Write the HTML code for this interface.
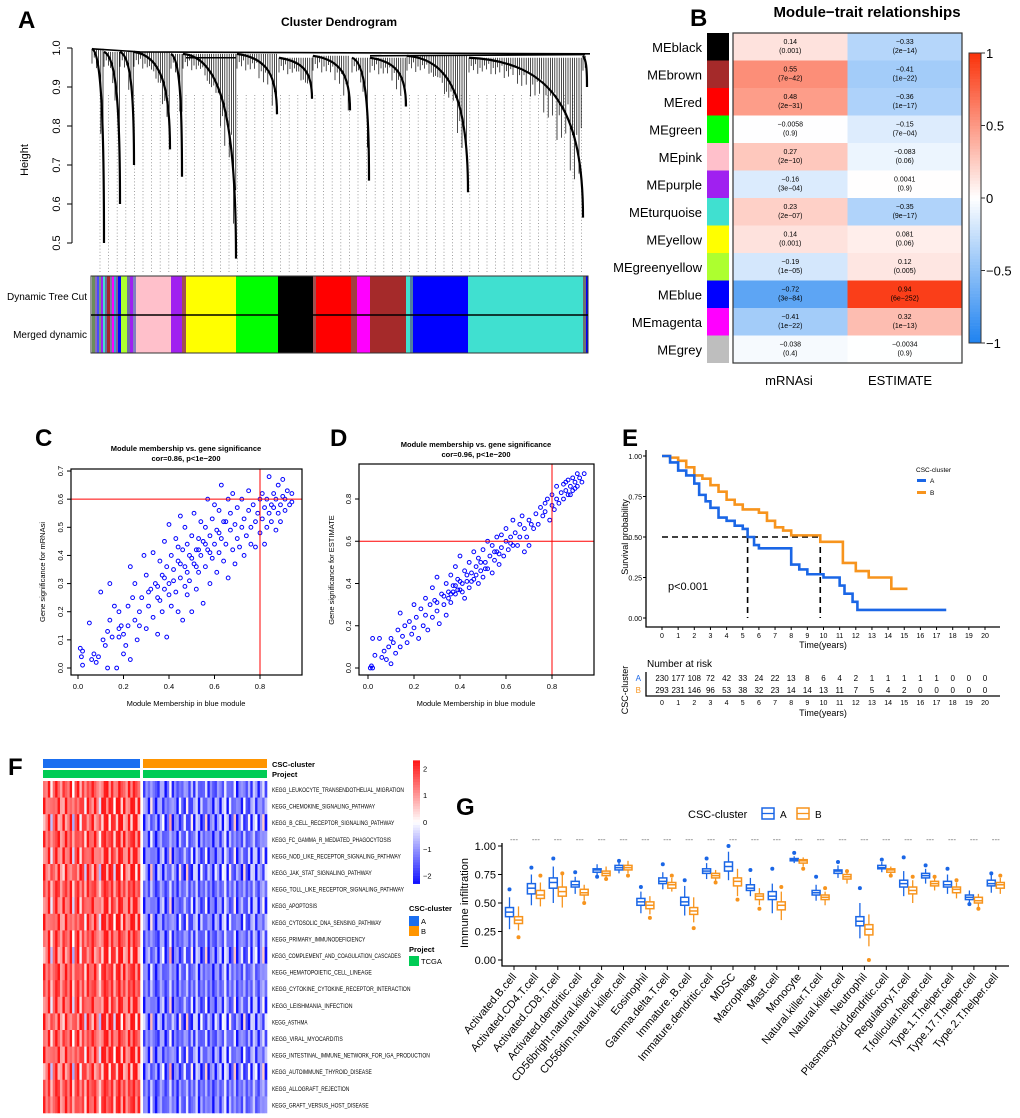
<!DOCTYPE html>
<html><head><meta charset="utf-8">
<style>
html,body{margin:0;padding:0;background:#fff;}
svg{display:block;font-family:"Liberation Sans",Arial,sans-serif;}
</style></head>
<body>
<svg id="fig" width="1020" height="1118" viewBox="0 0 1020 1118" xmlns="http://www.w3.org/2000/svg">
<rect width="1020" height="1118" fill="#fff"/>
<g id="pA">
  <text x="18" y="28" font-size="24" font-weight="bold">A</text>
  <text x="339" y="26" font-size="12" font-weight="bold" text-anchor="middle">Cluster Dendrogram</text>
  <text transform="translate(28,160) rotate(-90)" font-size="11" text-anchor="middle">Height</text>
  <text x="87" y="300" font-size="10" text-anchor="end">Dynamic Tree Cut</text>
  <text x="87" y="338" font-size="10" text-anchor="end">Merged dynamic</text>
</g>
<g id="pB">
  <text x="690" y="26" font-size="24" font-weight="bold">B</text>
  <text x="867" y="17" font-size="15" font-weight="bold" text-anchor="middle">Module−trait relationships</text>
  <text x="789" y="385" font-size="13" text-anchor="middle">mRNAsi</text>
  <text x="900" y="385" font-size="13" text-anchor="middle">ESTIMATE</text>
</g>
<g id="pC">
  <text x="35" y="446" font-size="24" font-weight="bold">C</text>
  <text x="186" y="451" font-size="7.5" font-weight="bold" text-anchor="middle">Module membership vs. gene significance</text>
  <text x="186" y="461" font-size="7.5" font-weight="bold" text-anchor="middle">cor=0.86, p&lt;1e−200</text>
  <text transform="translate(45,572) rotate(-90)" font-size="7.5" text-anchor="middle">Gene significance for  mRNAsi</text>
  <text x="186" y="706" font-size="7.5" text-anchor="middle">Module Membership in blue module</text>
</g>
<g id="pD">
  <text x="330" y="446" font-size="24" font-weight="bold">D</text>
  <text x="476" y="447" font-size="7.5" font-weight="bold" text-anchor="middle">Module membership vs. gene significance</text>
  <text x="476" y="457" font-size="7.5" font-weight="bold" text-anchor="middle">cor=0.96, p&lt;1e−200</text>
  <text transform="translate(334,570) rotate(-90)" font-size="7.5" text-anchor="middle">Gene significance for  ESTIMATE</text>
  <text x="476" y="706" font-size="7.5" text-anchor="middle">Module Membership in blue module</text>
</g>
<g id="pE">
  <text x="622" y="446" font-size="24" font-weight="bold">E</text>
  <text transform="translate(628,537) rotate(-90)" font-size="9" text-anchor="middle">Survival probability</text>
  <text x="823" y="648" font-size="9" text-anchor="middle">Time(years)</text>
  <text x="668" y="590" font-size="11">p&lt;0.001</text>
  <text x="916" y="472" font-size="6.5">CSC-cluster</text>
  <text x="647" y="667" font-size="10">Number at risk</text>
  <text transform="translate(628,690) rotate(-90)" font-size="9" text-anchor="middle">CSC-cluster</text>
  <text x="823" y="716" font-size="9" text-anchor="middle">Time(years)</text>
</g>
<g id="pF">
  <text x="8" y="775" font-size="24" font-weight="bold">F</text>
  <text x="272" y="767" font-size="7.5" font-weight="bold">CSC-cluster</text>
  <text x="272" y="777" font-size="7.5" font-weight="bold">Project</text>
  <text x="409" y="911" font-size="7.5" font-weight="bold">CSC-cluster</text>
  <text x="409" y="952" font-size="7.5" font-weight="bold">Project</text>
</g>
<g id="pG">
  <text x="456" y="815" font-size="24" font-weight="bold">G</text>
  <text x="688" y="818" font-size="11">CSC-cluster</text>
  <text transform="translate(468,903) rotate(-90)" font-size="11" text-anchor="middle">Immune infiltration</text>
</g>
</svg>
<script>
// ---------- DATA ----------
const bModules = ["MEblack","MEbrown","MEred","MEgreen","MEpink","MEpurple","MEturquoise","MEyellow","MEgreenyellow","MEblue","MEmagenta","MEgrey"];
const bModuleColors = ["#000000","#a52a2a","#ff0000","#00ff00","#ffc0cb","#a020f0","#40e0d0","#ffff00","#adff2f","#0000ff","#ff00ff","#bebebe"];
const bMrnasi = [0.14,0.55,0.48,-0.0058,0.27,-0.16,0.23,0.14,-0.19,-0.72,-0.41,-0.038];
const bMrnasiP = ["(0.001)","(7e−42)","(2e−31)","(0.9)","(2e−10)","(3e−04)","(2e−07)","(0.001)","(1e−05)","(3e−84)","(1e−22)","(0.4)"];
const bEstimate = [-0.33,-0.41,-0.36,-0.15,-0.083,0.0041,-0.35,0.081,0.12,0.94,0.32,-0.0034];
const bEstimateP = ["(2e−14)","(1e−22)","(1e−17)","(7e−04)","(0.06)","(0.9)","(9e−17)","(0.06)","(0.005)","(6e−252)","(1e−13)","(0.9)"];
const bColorTicks = [1,0.5,0,-0.5,-1];

const cPoints = [[0.01,0.07],[0.02,0.06],[0.015,0.04],[0.02,0.01],[0.05,0.16],[0.06,0.03],[0.07,0.05],[0.08,0.02],[0.09,0.04],[0.1,0.27],[0.11,0.1],[0.12,0.08],[0.13,0.0],[0.13,0.13],[0.14,0.3],[0.14,0.17],[0.15,0.11],[0.16,0.22],[0.17,0.0],[0.18,0.14],[0.18,0.2],[0.19,0.15],[0.2,0.05],[0.2,0.12],[0.21,0.08],[0.22,0.22],[0.23,0.03],[0.23,0.36],[0.24,0.25],[0.25,0.17],[0.25,0.3],[0.26,0.1],[0.27,0.2],[0.28,0.25],[0.29,0.4],[0.3,0.14],[0.3,0.33],[0.31,0.22],[0.32,0.28],[0.33,0.18],[0.33,0.41],[0.34,0.3],[0.35,0.25],[0.35,0.12],[0.36,0.38],[0.37,0.2],[0.37,0.33],[0.38,0.28],[0.38,0.45],[0.39,0.11],[0.39,0.36],[0.4,0.3],[0.4,0.51],[0.41,0.22],[0.41,0.4],[0.42,0.35],[0.43,0.27],[0.43,0.46],[0.44,0.2],[0.44,0.38],[0.45,0.54],[0.45,0.32],[0.46,0.42],[0.46,0.17],[0.47,0.36],[0.47,0.5],[0.48,0.26],[0.48,0.44],[0.49,0.31],[0.49,0.4],[0.5,0.2],[0.5,0.47],[0.51,0.37],[0.51,0.55],[0.52,0.42],[0.52,0.28],[0.53,0.46],[0.53,0.34],[0.54,0.52],[0.54,0.4],[0.55,0.23],[0.55,0.45],[0.56,0.36],[0.56,0.5],[0.57,0.42],[0.57,0.6],[0.58,0.3],[0.58,0.47],[0.59,0.53],[0.59,0.39],[0.6,0.44],[0.6,0.58],[0.61,0.34],[0.61,0.49],[0.62,0.41],[0.62,0.56],[0.63,0.65],[0.63,0.46],[0.64,0.38],[0.64,0.52],[0.65,0.44],[0.66,0.6],[0.66,0.32],[0.67,0.49],[0.67,0.55],[0.68,0.42],[0.68,0.62],[0.69,0.37],[0.69,0.51],[0.7,0.46],[0.7,0.57],[0.71,0.43],[0.72,0.6],[0.72,0.5],[0.73,0.53],[0.73,0.4],[0.74,0.47],[0.75,0.56],[0.75,0.63],[0.76,0.5],[0.76,0.44],[0.77,0.58],[0.78,0.52],[0.78,0.43],[0.79,0.55],[0.8,0.6],[0.8,0.48],[0.81,0.53],[0.81,0.62],[0.82,0.57],[0.82,0.44],[0.83,0.5],[0.83,0.6],[0.84,0.68],[0.84,0.55],[0.85,0.58],[0.85,0.52],[0.86,0.62],[0.86,0.57],[0.87,0.49],[0.87,0.6],[0.88,0.55],[0.88,0.65],[0.89,0.58],[0.89,0.52],[0.9,0.61],[0.9,0.67],[0.91,0.56],[0.91,0.6],[0.92,0.63],[0.93,0.58],[0.94,0.62],[0.94,0.59],[0.35,0.29],[0.42,0.31],[0.45,0.37],[0.48,0.34],[0.5,0.39],[0.53,0.42],[0.56,0.44],[0.4,0.26],[0.44,0.43],[0.47,0.29],[0.38,0.32],[0.52,0.36],[0.58,0.41],[0.62,0.48],[0.65,0.52],[0.36,0.24],[0.31,0.27],[0.27,0.15],[0.22,0.15],[0.18,0.11]];
const cXTicks = [0,0.2,0.4,0.6,0.8];
const cYTicks = [0,0.1,0.2,0.3,0.4,0.5,0.6,0.7];

const dPoints = [[0.01,0.0],[0.015,0.01],[0.02,0.0],[0.02,0.14],[0.03,0.06],[0.05,0.14],[0.06,0.05],[0.07,0.08],[0.08,0.04],[0.09,0.1],[0.1,0.02],[0.1,0.14],[0.11,0.12],[0.12,0.07],[0.13,0.18],[0.14,0.1],[0.14,0.26],[0.15,0.15],[0.16,0.2],[0.17,0.12],[0.18,0.22],[0.19,0.16],[0.2,0.3],[0.2,0.19],[0.21,0.24],[0.22,0.14],[0.23,0.28],[0.24,0.2],[0.25,0.33],[0.25,0.25],[0.26,0.18],[0.27,0.3],[0.28,0.38],[0.28,0.24],[0.29,0.32],[0.3,0.27],[0.3,0.43],[0.31,0.21],[0.32,0.35],[0.33,0.3],[0.34,0.4],[0.34,0.25],[0.35,0.36],[0.36,0.44],[0.36,0.31],[0.37,0.39],[0.38,0.35],[0.38,0.48],[0.39,0.42],[0.4,0.37],[0.4,0.53],[0.41,0.4],[0.42,0.46],[0.42,0.33],[0.43,0.41],[0.44,0.5],[0.44,0.38],[0.45,0.45],[0.46,0.55],[0.46,0.42],[0.47,0.48],[0.48,0.4],[0.48,0.52],[0.49,0.46],[0.5,0.56],[0.5,0.43],[0.51,0.5],[0.52,0.6],[0.52,0.47],[0.53,0.53],[0.54,0.45],[0.54,0.58],[0.55,0.51],[0.56,0.62],[0.56,0.55],[0.57,0.49],[0.58,0.57],[0.58,0.63],[0.59,0.53],[0.6,0.6],[0.6,0.66],[0.61,0.56],[0.62,0.62],[0.63,0.58],[0.63,0.7],[0.64,0.64],[0.65,0.58],[0.66,0.68],[0.66,0.62],[0.67,0.72],[0.68,0.55],[0.68,0.66],[0.69,0.62],[0.7,0.7],[0.7,0.58],[0.71,0.68],[0.72,0.66],[0.73,0.73],[0.74,0.68],[0.75,0.76],[0.76,0.72],[0.77,0.78],[0.77,0.74],[0.78,0.8],[0.79,0.7],[0.8,0.77],[0.8,0.82],[0.81,0.75],[0.82,0.8],[0.82,0.86],[0.83,0.78],[0.84,0.83],[0.85,0.87],[0.85,0.8],[0.86,0.84],[0.87,0.89],[0.87,0.82],[0.88,0.86],[0.89,0.9],[0.89,0.84],[0.9,0.88],[0.91,0.92],[0.91,0.86],[0.92,0.9],[0.93,0.88],[0.94,0.92],[0.35,0.33],[0.37,0.36],[0.39,0.37],[0.41,0.36],[0.43,0.44],[0.45,0.41],[0.47,0.44],[0.49,0.5],[0.51,0.47],[0.4,0.41],[0.38,0.39],[0.36,0.35],[0.33,0.34],[0.3,0.31],[0.55,0.55],[0.57,0.54],[0.62,0.59],[0.88,0.82],[0.9,0.85],[0.86,0.88]];
const dXTicks = [0,0.2,0.4,0.6,0.8];
const dYTicks = [0,0.2,0.4,0.6,0.8];

const eTimesA = [0,0.5,1,1.5,2,2.3,2.7,3,3.5,4,4.5,5,5.3,5.7,6,7.9,8,8.5,9,10,11,11.3,11.8,12.1,17.6];
const eSurvA  = [1,0.96,0.91,0.88,0.83,0.76,0.72,0.68,0.62,0.6,0.57,0.55,0.5,0.45,0.43,0.43,0.33,0.3,0.27,0.25,0.2,0.15,0.1,0.05,0.05];
const eTimesB = [0,0.5,1,1.5,2,2.5,3,3.5,4,4.5,5,6,6.5,7,7.5,8,9.8,11,11.2,12,12.8,14.2,15.2];
const eSurvB  = [1,0.99,0.97,0.93,0.88,0.86,0.82,0.78,0.73,0.7,0.67,0.65,0.6,0.56,0.54,0.51,0.47,0.47,0.34,0.29,0.25,0.18,0.18];
const eMedianA = 5.3, eMedianB = 9.8;
const eXTicks = [0,1,2,3,4,5,6,7,8,9,10,11,12,13,14,15,16,17,18,19,20];
const eYTicks = [1,0.75,0.5,0.25,0];
const eYTickLabels = ["1.00","0.75","0.50","0.25","0.00"];
const eRiskA = [230,177,108,72,42,33,24,22,13,8,6,4,2,1,1,1,1,1,0,0,0];
const eRiskB = [293,231,146,96,53,38,32,23,14,14,13,11,7,5,4,2,0,0,0,0,0];

const fPathways = ["KEGG_LEUKOCYTE_TRANSENDOTHELIAL_MIGRATION","KEGG_CHEMOKINE_SIGNALING_PATHWAY","KEGG_B_CELL_RECEPTOR_SIGNALING_PATHWAY","KEGG_FC_GAMMA_R_MEDIATED_PHAGOCYTOSIS","KEGG_NOD_LIKE_RECEPTOR_SIGNALING_PATHWAY","KEGG_JAK_STAT_SIGNALING_PATHWAY","KEGG_TOLL_LIKE_RECEPTOR_SIGNALING_PATHWAY","KEGG_APOPTOSIS","KEGG_CYTOSOLIC_DNA_SENSING_PATHWAY","KEGG_PRIMARY_IMMUNODEFICIENCY","KEGG_COMPLEMENT_AND_COAGULATION_CASCADES","KEGG_HEMATOPOIETIC_CELL_LINEAGE","KEGG_CYTOKINE_CYTOKINE_RECEPTOR_INTERACTION","KEGG_LEISHMANIA_INFECTION","KEGG_ASTHMA","KEGG_VIRAL_MYOCARDITIS","KEGG_INTESTINAL_IMMUNE_NETWORK_FOR_IGA_PRODUCTION","KEGG_AUTOIMMUNE_THYROID_DISEASE","KEGG_ALLOGRAFT_REJECTION","KEGG_GRAFT_VERSUS_HOST_DISEASE"];
const fColsA = [1.8,1.2,2.1,0.6,1.5,2.2,1.9,0.9,1.6,2.0,1.3,2.3,0.4,1.7,2.1,1.1,1.9,0.7,2.2,1.5,1.8,2.0,1.2,0.5,1.6,2.2,1.9,1.4,2.1,0.8,1.7,2.3,1.3,1.9,1.0,2.0,1.6,2.2,1.4,1.8];
const fColsB = [-1.5,-1.0,-1.8,-0.5,-1.3,-2.0,-1.6,-0.8,-1.2,-1.9,-1.4,-0.3,-1.7,-1.1,-2.1,-0.9,-1.5,-1.3,-0.6,-1.8,-1.0,-1.6,-0.4,-1.9,-1.2,-1.5,-0.7,-1.7,-1.1,-2.0,-1.4,-0.9,-1.6,-1.3,-0.2,-1.8,-1.0,-1.5,-0.6,-1.9,-1.2,-1.4,-0.8,-1.7,-1.1,-1.6,-0.5,-1.3,-1.8,-1.0,-0.7,-1.4];
const fRowShift = [0.1,-0.2,0.3,-0.1,0.2,-0.3,0.0,0.2,-0.2,0.1,0.3,-0.1,0.0,0.2,-0.3,0.1,-0.2,0.3,0.0,-0.1];
const fScaleTicks = [2,1,0,-1,-2];

const gCells = ["Activated.B.cell","Activated.CD4.T.cell","Activated.CD8.T.cell","Activated.dendritic.cell","CD56bright.natural.killer.cell","CD56dim.natural.killer.cell","Eosinophil","Gamma.delta.T.cell","Immature..B.cell","Immature.dendritic.cell","MDSC","Macrophage","Mast.cell","Monocyte","Natural.killer.T.cell","Natural.killer.cell","Neutrophil","Plasmacytoid.dendritic.cell","Regulatory.T.cell","T.follicular.helper.cell","Type.1.T.helper.cell","Type.17.T.helper.cell","Type.2.T.helper.cell"];
// [lowWhisker, q1, median, q3, highWhisker, outlier]
const gBoxA = [[0.27,0.38,0.42,0.46,0.55,0.62],[0.48,0.58,0.63,0.67,0.75,0.81],[0.5,0.63,0.68,0.72,0.82,0.89],[0.58,0.64,0.66,0.69,0.73,0.77],[0.74,0.77,0.79,0.8,0.84,0.73],[0.76,0.79,0.81,0.83,0.87,0.87],[0.41,0.48,0.51,0.54,0.6,0.64],[0.62,0.67,0.69,0.72,0.77,0.84],[0.39,0.48,0.51,0.55,0.65,0.7],[0.71,0.76,0.78,0.8,0.85,0.89],[0.7,0.78,0.82,0.86,0.95,1.0],[0.56,0.61,0.63,0.66,0.72,0.79],[0.41,0.53,0.56,0.6,0.67,0.8],[0.85,0.87,0.88,0.89,0.91,0.94],[0.52,0.57,0.59,0.61,0.66,0.73],[0.72,0.76,0.78,0.79,0.83,0.86],[0.19,0.3,0.34,0.38,0.5,0.63],[0.77,0.8,0.81,0.83,0.86,0.88],[0.56,0.64,0.67,0.7,0.78,0.9],[0.67,0.72,0.74,0.76,0.8,0.83],[0.58,0.64,0.66,0.69,0.75,0.8],[0.5,0.53,0.55,0.57,0.61,0.49],[0.59,0.65,0.67,0.7,0.76,0.76]];
const gBoxB = [[0.26,0.32,0.35,0.38,0.47,0.2],[0.47,0.54,0.57,0.61,0.68,0.74],[0.46,0.56,0.6,0.64,0.76,0.76],[0.52,0.57,0.59,0.62,0.66,0.5],[0.72,0.74,0.76,0.78,0.82,0.71],[0.76,0.79,0.81,0.83,0.87,0.74],[0.4,0.45,0.48,0.51,0.56,0.37],[0.6,0.63,0.66,0.68,0.72,0.74],[0.33,0.4,0.43,0.46,0.55,0.28],[0.69,0.72,0.74,0.76,0.79,0.68],[0.56,0.65,0.69,0.72,0.8,0.53],[0.48,0.53,0.56,0.58,0.63,0.45],[0.35,0.44,0.48,0.51,0.6,0.64],[0.82,0.85,0.87,0.88,0.9,0.8],[0.48,0.53,0.55,0.57,0.6,0.63],[0.67,0.71,0.73,0.75,0.78,0.78],[0.12,0.22,0.27,0.31,0.4,0.0],[0.74,0.77,0.79,0.8,0.82,0.74],[0.5,0.58,0.61,0.64,0.7,0.73],[0.61,0.65,0.67,0.69,0.73,0.73],[0.54,0.59,0.62,0.64,0.68,0.7],[0.46,0.5,0.52,0.55,0.58,0.45],[0.58,0.63,0.66,0.68,0.72,0.74]];
const gYTicks = [0,0.25,0.5,0.75,1];
const gYTickLabels = ["0.00","0.25","0.50","0.75","1.00"];

// dendrogram modules (leaf range px, top height, tail height)
const aClusters = [[92,104,0.998,0.5],[104,120,0.99,0.6],[120,134,0.99,0.7],[134,170,0.99,0.74],[171,182,0.985,0.67],[183,236,0.985,0.46],[237,277,0.985,0.83],[279,312,0.975,0.87],[313,350,0.98,0.84],[352,369,0.975,0.66],[370,406,0.975,0.85],[407,468,0.98,0.63],[469,583,0.975,0.565],[583,587,0.98,0.9]];
const aBarSegments = [[92,95,"#6b8e5a"],[95,97,"#8a6bbf"],[97,99,"#4a4aff"],[99,101,"#7a9a7a"],[101,103,"#a020f0"],[103,105,"#40e0d0"],[105,107,"#6a6a9a"],[107,110,"#a52a2a"],[110,112,"#7a7aa0"],[112,114,"#ff00ff"],[114,116,"#40a0d0"],[116,118,"#8060a0"],[118,121,"#0000ff"],[121,123,"#adff2f"],[123,127,"#adff2f"],[127,130,"#7070a0"],[130,133,"#a020f0"],[133,136,"#8080c0"],[136,171,"#ffc0cb"],[171,182,"#a020f0"],[182,186,"#a05050"],[186,236,"#ffff00"],[236,278,"#00ff00"],[278,313,"#000000"],[313,316,"#a05050"],[316,351,"#ff0000"],[351,357,"#a04040"],[357,370,"#ff00ff"],[370,406,"#a52a2a"],[406,410,"#40e0d0"],[410,413,"#5080a0"],[413,468,"#0000ff"],[468,583,"#40e0d0"],[583,586,"#707070"],[586,588,"#0000ff"]];
const aYTicks = [0.5,0.6,0.7,0.8,0.9,1.0];

// ---------- HELPERS ----------
const NS = "http://www.w3.org/2000/svg";
function mk(parent, tag, attrs, txt){
  const e = document.createElementNS(NS, tag);
  for (const k in attrs) e.setAttribute(k, attrs[k]);
  if (txt !== undefined) e.textContent = txt;
  parent.appendChild(e);
  return e;
}
const $ = id => document.getElementById(id);

// ---------- PANEL A ----------
(function(){
  const g = $("pA");
  const yA = h => 48 + (1 - h) * 390;
  let e;
  for (let x = 100; x <= 583; x += 8.6) {
    e = mk(g, "line", {x1:x, y1:95, x2:x, y2:273, stroke:"#888", "stroke-width":0.8, "stroke-dasharray":"1 2.2"});
    
    
  }
  e = mk(g, "line", {x1:72, y1:yA(1.0), x2:72, y2:yA(0.5), stroke:"#000", "stroke-width":1});
  
  
  aYTicks.forEach(t => {
    e = mk(g, "line", {x1:67, y1:yA(t), x2:72, y2:yA(t), stroke:"#000"});
    
    
    e = mk(g, "text", {transform:`translate(60,${yA(t)}) rotate(-90)`, "font-size":11, "text-anchor":"middle"}, t.toFixed(1));
    
    
  });
  const pattern = [0.9,0.35,0.7,0.2,1,0.5,0.8,0.3,0.6,0.15,0.95,0.45];
  aClusters.forEach((c, ci) => {
    const [x0, x1, top, tail] = c;
    const yt = yA(top), yb = yA(tail);
    const spine = x => { const f = (x - x0) / Math.max(1, (x1 - x0)); return yt + (yb - yt) * Math.pow(f, 3); };
    let k = 0;
    for (let x = x0; x <= x1; x += 2.2) {
      const depth = (spine(x) - yt) * (0.3 + 0.6 * pattern[(k + ci) % pattern.length]) + 4 + pattern[k % 12] * 12;
      e = mk(g, "line", {x1:x, y1:yt, x2:x, y2:Math.min(yt + depth, yb), stroke:"#000", "stroke-width":0.7});
      
      
      k++;
    }
    const d = `M${x0},${yt} C${x0 + (x1 - x0) * 0.75},${yt + 4} ${x1},${yt + (yb - yt) * 0.35} ${x1},${yb}`;
    e = mk(g, "path", {d:d, fill:"none", stroke:"#000", "stroke-width":2.2});
    
    
  });
  e = mk(g, "path", {d:`M92,${yA(0.998)} L140,${yA(0.99)} L590,${yA(0.985)} M370,${yA(0.98)} L585,${yA(0.983)} M186,${yA(0.975)} L236,${yA(0.975)}`, fill:"none", stroke:"#000", "stroke-width":1.6});
  
  
  aBarSegments.forEach(s => {
    e = mk(g, "rect", {x:s[0], y:276, width:s[1]-s[0], height:77, fill:s[2]});
    
    
  });
  e = mk(g, "rect", {x:91, y:276, width:497, height:77, fill:"none", stroke:"#333", "stroke-width":1});
  
  
  e = mk(g, "line", {x1:91, y1:315, x2:588, y2:315, stroke:"#000", "stroke-width":1.5});
  
  
})();

// ---------- PANEL B ----------
function bColor(v){
  let r, gg, b;
  if (v >= 0) { r = 255 - v*5; gg = 255 - v*205; b = 255 - v*245; }
  else { const a = -v; r = 255 - a*225; gg = 255 - a*125; b = 255 - a*15; }
  return `rgb(${Math.round(r)},${Math.round(gg)},${Math.round(b)})`;
}
(function(){
  const g = $("pB");
  const top = 33, rowH = 27.5, cx0 = 733, cw = 114.5;
  const rowY = i => top + i * rowH;
  let e;
  bModules.forEach((m, i) => {
    e = mk(g, "rect", {x:707, y:rowY(i), width:22, height:rowH, fill:bModuleColors[i]});
    
    
    e = mk(g, "text", {x:702, y:rowY(i) + rowH/2 + 5, "font-size":13, "text-anchor":"end"}, m);
    
    
    [[bMrnasi[i], bMrnasiP[i]], [bEstimate[i], bEstimateP[i]]].forEach((cell, j) => {
      e = mk(g, "rect", {x:cx0 + j*cw, y:rowY(i), width:cw, height:rowH, fill:bColor(cell[0])});
      
      
      const lab = String(cell[0]).replace("-", "−");
      e = mk(g, "text", {x:cx0 + j*cw + cw/2, y:rowY(i) + 11, "font-size":7, "text-anchor":"middle"}, lab);
      
      
      e = mk(g, "text", {x:cx0 + j*cw + cw/2, y:rowY(i) + 20, "font-size":7, "text-anchor":"middle"}, cell[1]);
      
      
    });
  });
  e = mk(g, "rect", {x:733, y:33, width:229, height:330, fill:"none", stroke:"#333", "stroke-width":1.2});
  
  
  const cbY = v => 198 - v * 145;
  for (let v = -1; v < 1; v += 0.02) {
    e = mk(g, "rect", {x:969, y:cbY(v + 0.02), width:12, height:3.2, fill:bColor(v + 0.01)});
    
    
  }
  e = mk(g, "rect", {x:969, y:53, width:12, height:290, fill:"none", stroke:"#333"});
  
  
  bColorTicks.forEach(t => {
    e = mk(g, "line", {x1:981, y1:cbY(t), x2:985, y2:cbY(t), stroke:"#333"});
    
    
    e = mk(g, "text", {x:986, y:cbY(t) + 5, "font-size":13}, String(t).replace("-", "−"));
    
    
  });
})();

// ---------- SCATTER C / D ----------
function scatter(g, pts, xs, ys, box, xTicks, yTicks, ptName){
  let e;
  pts.forEach(p => {
    e = mk(g, "circle", {cx:xs(p[0]), cy:ys(p[1]), r:1.9, fill:"none", stroke:"#0000ff", "stroke-width":1});
    
    
  });
  e = mk(g, "line", {x1:xs(0.8), y1:box[1], x2:xs(0.8), y2:box[3], stroke:"#ff0000", "stroke-width":1});
  
  
  e = mk(g, "line", {x1:box[0], y1:ys(0.6), x2:box[2], y2:ys(0.6), stroke:"#ff0000", "stroke-width":1});
  
  
  e = mk(g, "rect", {x:box[0], y:box[1], width:box[2]-box[0], height:box[3]-box[1], fill:"none", stroke:"#000", "stroke-width":1.2});
  
  
  xTicks.forEach(t => {
    e = mk(g, "line", {x1:xs(t), y1:box[3], x2:xs(t), y2:box[3] + 4, stroke:"#000"});
    
    
    e = mk(g, "text", {x:xs(t), y:box[3] + 14, "font-size":7.5, "text-anchor":"middle"}, t.toFixed(1));
    
    
  });
  yTicks.forEach(t => {
    e = mk(g, "line", {x1:box[0] - 4, y1:ys(t), x2:box[0], y2:ys(t), stroke:"#000"});
    
    
    e = mk(g, "text", {transform:`translate(${box[0] - 8},${ys(t)}) rotate(-90)`, "font-size":7.5, "text-anchor":"middle"}, t.toFixed(1));
    
    
  });
}
scatter($("pC"), cPoints, v => 78 + v*227.5, v => 668 - v*281.4, [71,469,302,675], cXTicks, cYTicks, 'gene-point-c');
scatter($("pD"), dPoints, v => 368 + v*230, v => 668 - v*211.25, [359,464,594,675], dXTicks, dYTicks, 'gene-point-d');

// ---------- PANEL E ----------
(function(){
  const g = $("pE");
  const xE = t => 662 + t * 16.15, yE = s => 618 - s * 162;
  const blue = "#1a66e6", orange = "#f7941d";
  let e;
  function stepPath(ts, ss){
    let d = `M${xE(ts[0])},${yE(ss[0])}`;
    for (let i = 1; i < ts.length; i++) d += ` H${xE(ts[i])} V${yE(ss[i])}`;
    return d;
  }
  e = mk(g, "path", {d:`M${xE(0)},${yE(0.5)} H${xE(eMedianB)} M${xE(eMedianA)},${yE(0.5)} V${yE(0)} M${xE(eMedianB)},${yE(0.5)} V${yE(0)}`, fill:"none", stroke:"#000", "stroke-width":1.6, "stroke-dasharray":"6 4"});
  
  
  e = mk(g, "path", {d:stepPath(eTimesB, eSurvB), fill:"none", stroke:orange, "stroke-width":2.6});
  
  
  e = mk(g, "path", {d:stepPath(eTimesA, eSurvA), fill:"none", stroke:blue, "stroke-width":2.6});
  
  
  e = mk(g, "path", {d:"M646,450 V627 H1000", fill:"none", stroke:"#000", "stroke-width":1.3});
  
  
  eYTicks.forEach((t, i) => {
    e = mk(g, "line", {x1:643, y1:yE(t), x2:646, y2:yE(t), stroke:"#000"});
    
    
    e = mk(g, "text", {x:642, y:yE(t) + 3, "font-size":7, "text-anchor":"end"}, eYTickLabels[i]);
    
    
  });
  eXTicks.forEach((t, i) => {
    e = mk(g, "line", {x1:xE(t), y1:627, x2:xE(t), y2:630, stroke:"#000"});
    
    
    e = mk(g, "text", {x:xE(t), y:638, "font-size":7, "text-anchor":"middle"}, t);
    
    
    e = mk(g, "text", {x:xE(t), y:681, "font-size":8, "text-anchor":"middle"}, eRiskA[i]);
    
    
    e = mk(g, "text", {x:xE(t), y:693, "font-size":8, "text-anchor":"middle"}, eRiskB[i]);
    
    
    e = mk(g, "text", {x:xE(t), y:705, "font-size":7, "text-anchor":"middle"}, t);
    
    
  });
  e = mk(g, "path", {d:"M646,672 V696 H1000", fill:"none", stroke:"#000", "stroke-width":1.3});
  
  
  e = mk(g, "text", {x:641, y:681, "font-size":8, fill:blue, "text-anchor":"end"}, "A");
  
  
  e = mk(g, "text", {x:641, y:693, "font-size":8, fill:orange, "text-anchor":"end"}, "B");
  
  
  [[blue,"A",483],[orange,"B",495]].forEach(l => {
    e = mk(g, "rect", {x:917, y:l[2]-4, width:9, height:3, fill:l[0]});
    
    
    e = mk(g, "text", {x:930, y:l[2], "font-size":6.5}, l[1]);
    
    
  });
})();

// ---------- PANEL F ----------
function fColor(v){
  v = Math.max(-2.3, Math.min(2.3, v));
  if (v >= 0) { const a = v/2.3; return `rgb(255,${Math.round(255-a*235)},${Math.round(255-a*235)})`; }
  const a = -v/2.3; return `rgb(${Math.round(255-a*240)},${Math.round(255-a*240)},255)`;
}
(function(){
  const g = $("pF");
  const top = 781, rowH = 16.6;
  let e;
  e = mk(g, "rect", {x:43, y:759, width:97, height:9, fill:"#1a6ef0"});
  
  
  e = mk(g, "rect", {x:143, y:759, width:124, height:9, fill:"#ff9500"});
  
  
  e = mk(g, "rect", {x:43, y:770, width:97, height:8, fill:"#00cc55"});
  
  
  e = mk(g, "rect", {x:143, y:770, width:124, height:8, fill:"#00cc55"});
  
  
  const wA = 97 / fColsA.length, wB = 124 / fColsB.length;
  fPathways.forEach((p, i) => {
    fColsA.forEach((v, j) => {
      e = mk(g, "rect", {x:43 + j*wA, y:top + i*rowH, width:wA + 0.3, height:rowH + 0.3, fill:fColor(v + fRowShift[i] * ((j % 3) - 1) * 4)});
      
      
    });
    fColsB.forEach((v, j) => {
      e = mk(g, "rect", {x:143 + j*wB, y:top + i*rowH, width:wB + 0.3, height:rowH + 0.3, fill:fColor(v + fRowShift[i] * ((j % 3) - 1) * 4)});
      
      
    });
    e = mk(g, "text", {x:272, y:top + i*rowH + 11, "font-size":6.2, textLength:p.length * 3.22, lengthAdjust:"spacingAndGlyphs"}, p);
    
    
  });
  const sY = v => 822 - v * 26.8;
  for (let v = -2.3; v < 2.3; v += 0.1) {
    e = mk(g, "rect", {x:413, y:sY(v + 0.1), width:7, height:3, fill:fColor(v + 0.05)});
    
    
  }
  fScaleTicks.forEach(t => {
    e = mk(g, "text", {x:423, y:sY(t) + 3, "font-size":7.5}, String(t).replace("-", "−"));
    
    
  });
  [["#1a6ef0","A",916],["#ff9500","B",926],["#00cc55","TCGA",956]].forEach(l => {
    e = mk(g, "rect", {x:409, y:l[2], width:10, height:10, fill:l[0]});
    
    
    e = mk(g, "text", {x:421, y:l[2] + 8, "font-size":7.5}, l[1]);
    
    
  });
})();

// ---------- PANEL G ----------
(function(){
  const g = $("pG");
  const xG = i => 514 + i * 21.9, yG = v => 960 - v * 114;
  const blue = "#1a66e6", orange = "#f7941d";
  let e;
  function box(cx, d, col, name){
    const w = 8;
    e = mk(g, "line", {x1:cx, y1:yG(d[0]), x2:cx, y2:yG(d[4]), stroke:col, "stroke-width":1.3});
    
    
    e = mk(g, "rect", {x:cx - w/2, y:yG(d[3]), width:w, height:yG(d[1]) - yG(d[3]), fill:"#fff", stroke:col, "stroke-width":1.5});
    
    
    e = mk(g, "line", {x1:cx - w/2, y1:yG(d[2]), x2:cx + w/2, y2:yG(d[2]), stroke:col, "stroke-width":1.5});
    
    
    e = mk(g, "circle", {cx:cx, cy:yG(d[5]), r:2, fill:col});
    
    
  }
  gCells.forEach((c, i) => {
    box(xG(i) - 4.5, gBoxA[i], blue, 'box-cluster-a');
    box(xG(i) + 4.5, gBoxB[i], orange, 'box-cluster-b');
    e = mk(g, "text", {x:xG(i), y:842, "font-size":8, fill:"#666", "text-anchor":"middle"}, "---");
    
    
    e = mk(g, "line", {x1:xG(i), y1:966, x2:xG(i), y2:970, stroke:"#000"});
    
    
    e = mk(g, "text", {transform:`translate(${xG(i) + 3},977) rotate(-50)`, "font-size":11, "text-anchor":"end"}, c);
    
    
  });
  e = mk(g, "path", {d:`M502,843 V966 H1009`, fill:"none", stroke:"#000", "stroke-width":1.3});
  
  
  gYTicks.forEach((t, i) => {
    e = mk(g, "line", {x1:498, y1:yG(t), x2:502, y2:yG(t), stroke:"#000"});
    
    
    e = mk(g, "text", {x:496, y:yG(t) + 4, "font-size":11, "text-anchor":"end"}, gYTickLabels[i]);
    
    
  });
  [[blue,"A",762],[orange,"B",797]].forEach(l => {
    e = mk(g, "rect", {x:l[2], y:808, width:12, height:11, fill:"#fff", stroke:l[0], "stroke-width":1.5});
    
    
    e = mk(g, "line", {x1:l[2], y1:813.5, x2:l[2] + 12, y2:813.5, stroke:l[0], "stroke-width":1.3});
    
    
    e = mk(g, "text", {x:l[2] + 18, y:818, "font-size":10}, l[1]);
    
    
  });
})();
</script>
</body></html>
